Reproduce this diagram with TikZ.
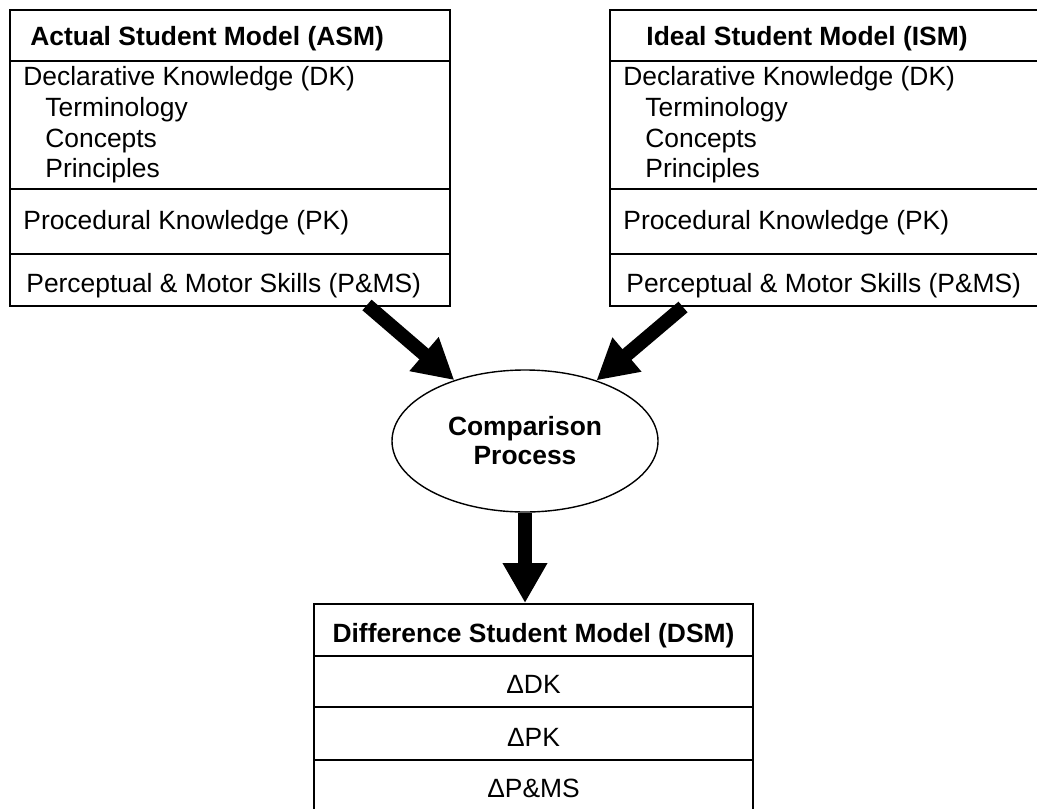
\documentclass[tikz,border=0pt]{standalone}
\usepackage{fontspec}
\setmainfont{Liberation Sans}
\usetikzlibrary{arrows.meta,shapes.geometric,calc}

\begin{document}
\begin{tikzpicture}[x=0.5pt,y=-0.5pt,
    font=\fontsize{13.2pt}{16pt}\selectfont,
    model/.style={draw,line width=1pt,anchor=north west,minimum width=220pt,inner sep=0pt},
    entry/.style={anchor=base west,inner sep=0pt},
    centry/.style={anchor=base,inner sep=0pt},
    bigarrow/.style={line width=7pt,-{Triangle[length=20pt,width=21pt]}}]
  \useasboundingbox (0,0) rectangle (1037,808);
  \clip (0,0) rectangle (1037,808);

  % the two input models
  \node[model,minimum height=148pt] (asm) at (9,9) {};
  \node[model,minimum height=148pt] (ism) at (609,9) {};
  \node[entry] (asm-title) at ($(asm.north west)+(21,37)$) {\textbf{Actual Student Model (ASM)}};
  \node[entry] (ism-title) at ($(ism.north west)+(37,37)$) {\textbf{Ideal Student Model (ISM)}};
  \foreach \m in {asm,ism} {
    \foreach \d in {52,180,245}
      \draw[line width=1pt] ($(\m.north west)+(0,\d)$) -- ($(\m.north east)+(0,\d)$);
    \node[entry] (\m-dk) at ($(\m.north west)+(14,77)$) {Declarative Knowledge (DK)};
    \node[entry] (\m-term) at ($(\m.north west)+(36,108)$) {Terminology};
    \node[entry] (\m-conc) at ($(\m.north west)+(36,139)$) {Concepts};
    \node[entry] (\m-prin) at ($(\m.north west)+(36,168)$) {Principles};
    \node[entry] (\m-pk) at ($(\m.north west)+(14,220)$) {Procedural Knowledge (PK)};
    \node[entry] (\m-pms) at ($(\m.north west)+(17,283)$) {Perceptual \& Motor Skills (P\&MS)};
  }

  % comparison
  \node[draw,ellipse,line width=0.7pt,minimum width=133pt,minimum height=71pt,inner sep=0pt,
    align=center,font=\fontsize{13.2pt}{14.5pt}\selectfont\bfseries] (cmp) at (525,441) {Comparison\\Process};

  % difference model
  \node[model,minimum width=219.5pt,minimum height=106pt] (dsm) at (313,603) {};
  \foreach \d in {53,104,157}
    \draw[line width=1pt] ($(dsm.north west)+(0,\d)$) -- ($(dsm.north east)+(0,\d)$);
  \node[centry] (dsm-title) at ($(dsm.north)+(0,39)$) {\textbf{Difference Student Model (DSM)}};
  \node[centry] (dsm-dk) at ($(dsm.north)+(0,90)$) {ΔDK};
  \node[centry] (dsm-pk) at ($(dsm.north)+(0,143)$) {ΔPK};
  \node[centry] (dsm-pms) at ($(dsm.north)+(0,194)$) {ΔP\&MS};

  % arrows
  \coordinate (asmout) at (367,305);
  \coordinate (ismout) at (683,307);
  \draw[bigarrow] (asmout) -- (cmp);
  \draw[bigarrow] (ismout) -- (cmp);
  \draw[bigarrow] (cmp) -- (cmp |- dsm.north);
\end{tikzpicture}
\end{document}
